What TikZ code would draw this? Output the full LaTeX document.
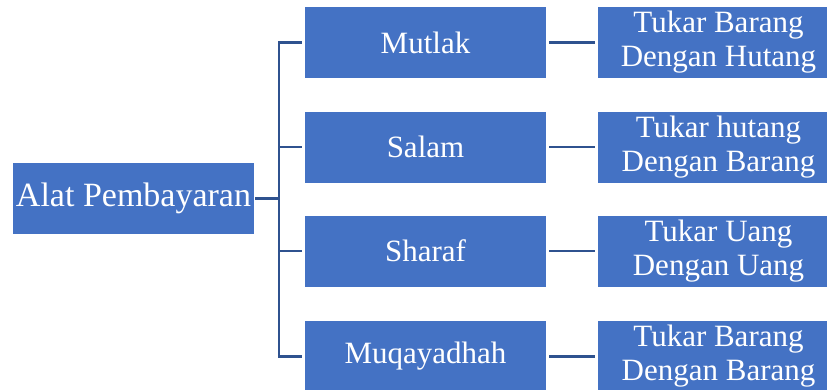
\documentclass[tikz,border=0pt]{standalone}
\usepackage{fontspec}
\setmainfont{Liberation Serif}
\definecolor{boxblue}{HTML}{4472C4}
\definecolor{lineblue}{HTML}{2F528F}
\begin{document}
\begin{tikzpicture}[x=1pt,y=-1pt,
  box/.style={fill=boxblue, text=white, inner sep=0pt, minimum height=71pt,
    font=\fontsize{31}{34}\selectfont, align=center},
  midbox/.style={box, minimum width=241pt},
  rbox/.style={fill=boxblue, inner sep=0pt, minimum height=71pt, minimum width=229pt},
  rtext/.style={text=white, inner sep=0pt, font=\fontsize{31}{34}\selectfont, align=center},
  conn/.style={draw=lineblue, line width=2.3pt}]
\useasboundingbox (0,0) rectangle (828,389);
\clip (0,0) rectangle (828,389);
\node[box, minimum width=241pt, font=\fontsize{34}{37}\selectfont] (L) at (133.5,198.5) {Alat Pembayaran};
\node[midbox] (M1) at (425.5,42.5) {Mutlak};
\node[midbox] (M2) at (425.5,147) {Salam};
\node[midbox] (M3) at (425.5,251) {Sharaf};
\node[midbox] (M4) at (425.5,356.5) {Muqayadhah};
\node[rbox] (R1) at (712.5,42.5) {};
\node[rbox] (R2) at (712.5,147) {};
\node[rbox] (R3) at (712.5,251) {};
\node[rbox] (R4) at (712.5,356.5) {};
\node[rtext] (R1t) at ([xshift=6pt]R1.center) {Tukar Barang\\Dengan Hutang};
\node[rtext] (R2t) at ([xshift=6pt]R2.center) {Tukar hutang\\Dengan Barang};
\node[rtext] (R3t) at ([xshift=6pt]R3.center) {Tukar Uang\\Dengan Uang};
\node[rtext] (R4t) at ([xshift=6pt]R4.center) {Tukar Barang\\Dengan Barang};
\coordinate (T) at (279,198.5);
\draw[conn, shorten <=1pt] (L.east) -- (T);
\draw[conn, shorten >=3pt] (T |- M1.west) -- (M1.west);
\draw[conn, shorten >=3pt] (T |- M2.west) -- (M2.west);
\draw[conn, shorten >=3pt] (T |- M3.west) -- (M3.west);
\draw[conn, shorten >=3pt] (T |- M4.west) -- (M4.west);
\draw[conn, line cap=rect] (T |- M1.west) -- (T |- M4.west);
\foreach \i in {1,2,3,4}{
  \draw[conn, shorten <=3pt, shorten >=3pt] (M\i.east) -- (R\i.west);
}
\end{tikzpicture}
\end{document}
